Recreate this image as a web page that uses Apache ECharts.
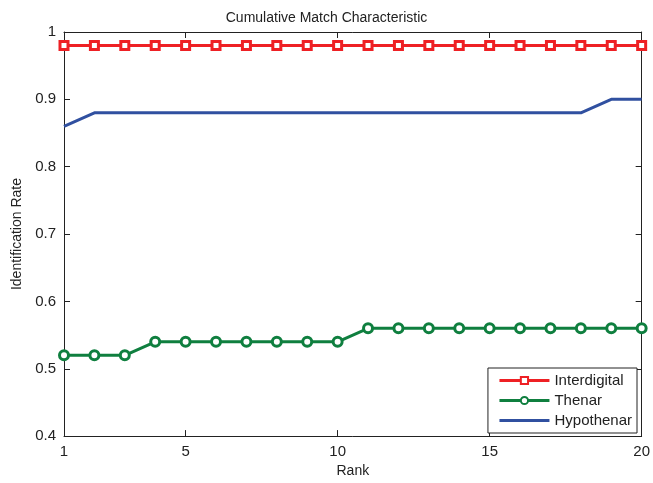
<!DOCTYPE html>
<html>
<head>
<meta charset="utf-8">
<script src="https://cdn.jsdelivr.net/npm/echarts@6/dist/echarts.min.js"></script>
<style>html,body{margin:0;padding:0;background:#fff}#c{width:653px;height:483px}</style>
</head>
<body>
<div id="c"></div>
<script>
var ranks = [1,2,3,4,5,6,7,8,9,10,11,12,13,14,15,16,17,18,19,20];
var interdigital = [0.98,0.98,0.98,0.98,0.98,0.98,0.98,0.98,0.98,0.98,0.98,0.98,0.98,0.98,0.98,0.98,0.98,0.98,0.98,0.98];
var thenar = [0.52,0.52,0.52,0.54,0.54,0.54,0.54,0.54,0.54,0.54,0.56,0.56,0.56,0.56,0.56,0.56,0.56,0.56,0.56,0.56];
var hypothenar = [0.86,0.88,0.88,0.88,0.88,0.88,0.88,0.88,0.88,0.88,0.88,0.88,0.88,0.88,0.88,0.88,0.88,0.88,0.90,0.90];
var xTicks = [1,5,10,15,20];
var yTicks = [0.4,0.5,0.6,0.7,0.8,0.9,1];

function pairs(v){ return ranks.map(function(r,i){ return [r, v[i]]; }); }

var FONT = 'Liberation Sans, Arial, sans-serif';
var axisLine = {show:true, lineStyle:{color:'#222', width:1}};
function xAx(pos, labels){
  return {type:'value', position:pos, min:1, max:20, axisLine:axisLine,
    axisTick:{show:true, inside:true, length:6, customValues:xTicks, lineStyle:{color:'#222'}},
    axisLabel:{show:labels, customValues:xTicks, color:'#222', fontSize:15, fontFamily:FONT, margin:8,
      formatter:function(v){return String(v);}},
    splitLine:{show:false},
    name: labels ? 'Rank' : '', nameLocation:'middle', nameGap:27,
    nameTextStyle:{color:'#222', fontSize:14, fontFamily:FONT}};
}
function yAx(pos, labels){
  return {type:'value', position:pos, min:0.4, max:1, interval:0.1, axisLine:axisLine,
    axisTick:{show:true, inside:true, length:6, lineStyle:{color:'#222'}},
    axisLabel:{show:labels, color:'#222', fontSize:15, fontFamily:FONT, margin:8,
      formatter:function(v){ return (Math.round(v*10)/10).toString(); }},
    splitLine:{show:false},
    name: labels ? 'Identification Rate' : '', nameLocation:'middle', nameGap:38,
    nameTextStyle:{color:'#222', fontSize:14, fontFamily:FONT}};
}

var chart = echarts.init(document.getElementById('c'), null, {renderer:'canvas'});
chart.setOption({
  animation:false,
  backgroundColor:'#fff',
  title:{text:'Cumulative Match Characteristic', left:'center', top:6,
    textStyle:{color:'#222', fontSize:14, fontWeight:'normal', fontFamily:FONT}},
  grid:{left:64, right:9, top:32, bottom:43},
  legend:{right:16, bottom:50, orient:'vertical', itemGap:5, itemWidth:50, itemHeight:9,
    backgroundColor:'#fff', borderColor:'#222', borderWidth:1, padding:[5,5,5,10],
    lineStyle:{width:3},
    textStyle:{color:'#222', fontSize:15, fontFamily:FONT},
    data:['Interdigital','Thenar',{name:'Hypothenar', itemStyle:{opacity:0}}]},
  xAxis:[xAx('bottom', true), xAx('top', false)],
  yAxis:[yAx('left', true), yAx('right', false)],
  series:[
    {name:'Interdigital', type:'line', data:pairs(interdigital), symbol:'rect', symbolSize:8,
      lineStyle:{color:'#EE2024', width:3}, itemStyle:{color:'#fff', borderColor:'#EE2024', borderWidth:3}, color:'#EE2024', z:4},
    {name:'Thenar', type:'line', data:pairs(thenar), symbol:'circle', symbolSize:9,
      lineStyle:{color:'#0F7F3F', width:3}, itemStyle:{color:'#fff', borderColor:'#0F7F3F', borderWidth:3}, color:'#0F7F3F', z:3},
    {name:'Hypothenar', type:'line', data:pairs(hypothenar), symbol:'none',
      lineStyle:{color:'#3050A0', width:3}, color:'#3050A0', z:2}
  ]
});
</script>
</body>
</html>
